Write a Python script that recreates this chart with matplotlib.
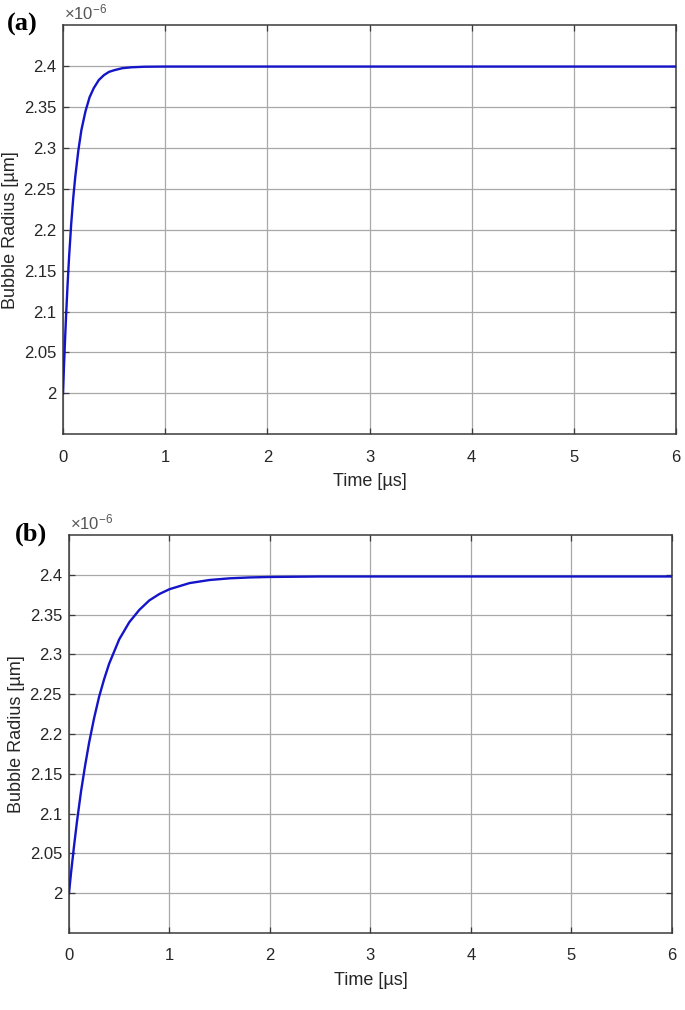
import matplotlib
matplotlib.use("Agg")
import matplotlib.pyplot as plt
import numpy as np

plt.rcParams["font.family"] = ["Liberation Sans", "DejaVu Sans"]
plt.rcParams["mathtext.fontset"] = "custom"
plt.rcParams["mathtext.rm"] = "Liberation Sans"

# panel (a): bubble radius (x1e-6 m) vs time (us)
time_a = [0, 0.01, 0.02, 0.03, 0.045, 0.06, 0.08, 0.10, 0.12, 0.15,
          0.18, 0.22, 0.26, 0.30, 0.35, 0.40, 0.45, 0.50, 0.58, 0.67,
          0.80, 1.0, 2.0, 3.0, 4.0, 5.0, 6.0]
radius_a = [2.000, 2.035, 2.066, 2.095, 2.134, 2.168, 2.207, 2.239, 2.265,
            2.297, 2.322, 2.345, 2.362, 2.373, 2.383, 2.389, 2.393, 2.395,
            2.3975, 2.3986, 2.3993, 2.3995, 2.3995, 2.3995, 2.3995, 2.3995,
            2.3995]

# panel (b)
time_b = [0, 0.02, 0.05, 0.08, 0.12, 0.16, 0.20, 0.25, 0.30, 0.35, 0.40,
          0.50, 0.60, 0.70, 0.80, 0.90, 1.0, 1.2, 1.4, 1.6, 1.8, 2.0, 2.5,
          3.0, 4.0, 5.0, 6.0]
radius_b = [2.000, 2.025, 2.059, 2.0905, 2.128, 2.160, 2.189, 2.220, 2.247,
            2.269, 2.2885, 2.319, 2.3405, 2.356, 2.368, 2.376, 2.382,
            2.3897, 2.3936, 2.3957, 2.3968, 2.3974, 2.398, 2.398, 2.398,
            2.398, 2.398]

xticks = [0, 1, 2, 3, 4, 5, 6]
yticks = [2.0, 2.05, 2.1, 2.15, 2.2, 2.25, 2.3, 2.35, 2.4]
ytick_labels = ["2", "2.05", "2.1", "2.15", "2.2", "2.25", "2.3", "2.35", "2.4"]

axcol = "#3a3a3a"
txtcol = "#262626"


def panel(ax, t, r, tag, tagx):
    ax.plot(t, r, color="#1414c8", linewidth=1.7, zorder=3)
    ax.set_xlim(0, 6)
    ax.set_ylim(1.95, 2.45)
    ax.set_xticks(xticks)
    ax.set_yticks(yticks)
    ax.set_yticklabels(ytick_labels)
    ax.grid(True, color="#a8a8a8", linewidth=0.9)
    ax.tick_params(direction="in", length=4, width=0.9, colors=axcol,
                   labelcolor=txtcol, labelsize=12, top=True, right=True)
    ax.tick_params(axis="x", pad=11)
    ax.tick_params(axis="y", pad=5)
    for s in ax.spines.values():
        s.set_color(axcol)
        s.set_linewidth(1.1)
    ax.set_xlabel("Time [\u00b5s]", fontsize=13, color=txtcol, labelpad=6)
    ax.set_ylabel("Bubble Radius [\u00b5m]", fontsize=13, color=txtcol,
                  labelpad=3)
    ax.text(0.002, 1.008, r"$\mathregular{\times10^{-6}}$",
            transform=ax.transAxes, fontsize=12, color="#555555",
            ha="left", va="bottom")
    ax.figure.text(tagx, ax.get_position().y1 + 0.001, tag,
                   fontfamily="Liberation Serif", fontweight="bold",
                   fontsize=19, ha="left", va="center")


fig = plt.figure(figsize=(6.85, 10.1), dpi=100)
ax1 = fig.add_axes([0.092, 0.570, 0.895, 0.405])
ax2 = fig.add_axes([0.1007, 0.0762, 0.880, 0.394])
panel(ax1, time_a, radius_a, "(a)", 0.010)
panel(ax2, time_b, radius_b, "(b)", 0.021)

fig.savefig("out.png", dpi=100)
